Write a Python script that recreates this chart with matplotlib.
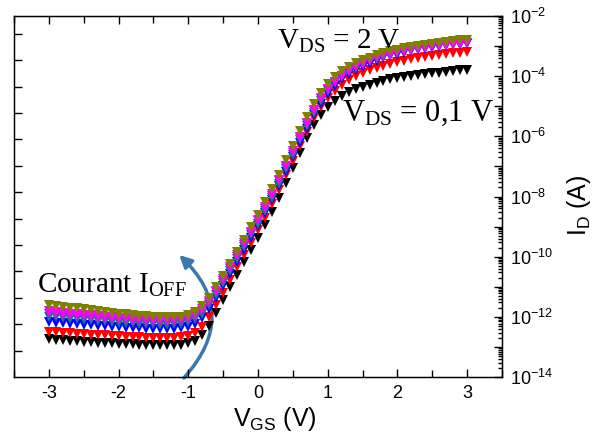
import numpy as np
import matplotlib
matplotlib.use("Agg")
import matplotlib.pyplot as plt
from matplotlib.ticker import LogLocator, FuncFormatter, MultipleLocator, NullFormatter
from matplotlib.patches import FancyArrowPatch

plt.rcParams['font.family'] = ['Liberation Sans', 'DejaVu Sans']
plt.rcParams['mathtext.fontset'] = 'custom'
plt.rcParams['mathtext.rm'] = 'Liberation Serif'
plt.rcParams['mathtext.it'] = 'Liberation Serif:italic'

# gate voltage sweep (V)
vgs = [round(-3.0 + 0.1 * i, 1) for i in range(61)]

# log10(I_D), one list per V_DS curve
logid_black = [-12.75, -12.77, -12.78, -12.80, -12.81, -12.83, -12.84, -12.86, -12.87, -12.88,
               -12.89, -12.90, -12.91, -12.92, -12.93, -12.93, -12.94, -12.94, -12.93, -12.92,
               -12.88, -12.80, -12.62, -12.30, -11.88, -11.45, -11.02, -10.60, -10.18, -9.78,
               -9.38, -8.95, -8.50, -8.05, -7.55, -7.05, -6.55, -6.05, -5.62, -5.28,
               -5.02, -4.82, -4.66, -4.53, -4.43, -4.35, -4.28, -4.22, -4.16, -4.11,
               -4.07, -4.03, -3.99, -3.96, -3.93, -3.90, -3.88, -3.85, -3.83, -3.81, -3.79]
logid_red = [-12.50, -12.52, -12.53, -12.55, -12.56, -12.58, -12.59, -12.61, -12.62, -12.63,
             -12.65, -12.66, -12.67, -12.68, -12.69, -12.70, -12.71, -12.71, -12.70, -12.68,
             -12.63, -12.53, -12.33, -12.02, -11.62, -11.20, -10.78, -10.36, -9.94, -9.54,
             -9.13, -8.70, -8.25, -7.78, -7.30, -6.81, -6.32, -5.84, -5.40, -5.02,
             -4.72, -4.48, -4.29, -4.13, -4.00, -3.89, -3.80, -3.72, -3.65, -3.59,
             -3.53, -3.48, -3.44, -3.40, -3.36, -3.33, -3.30, -3.27, -3.24, -3.22, -3.20]
logid_blue = [-12.17, -12.19, -12.21, -12.23, -12.25, -12.27, -12.28, -12.30, -12.31, -12.33,
              -12.34, -12.36, -12.37, -12.38, -12.39, -12.40, -12.41, -12.41, -12.40, -12.38,
              -12.33, -12.23, -12.03, -11.74, -11.37, -10.97, -10.57, -10.17, -9.77, -9.38,
              -8.98, -8.56, -8.12, -7.65, -7.17, -6.69, -6.21, -5.74, -5.30, -4.91,
              -4.58, -4.32, -4.11, -3.94, -3.80, -3.68, -3.58, -3.49, -3.41, -3.34,
              -3.28, -3.23, -3.18, -3.14, -3.10, -3.07, -3.04, -3.01, -2.98, -2.96, -2.94]
logid_teal = [-12.00, -12.02, -12.04, -12.06, -12.08, -12.10, -12.12, -12.14, -12.15, -12.17,
              -12.19, -12.20, -12.22, -12.23, -12.24, -12.25, -12.26, -12.26, -12.25, -12.23,
              -12.18, -12.08, -11.90, -11.62, -11.26, -10.87, -10.47, -10.07, -9.68, -9.29,
              -8.90, -8.48, -8.04, -7.57, -7.09, -6.61, -6.13, -5.66, -5.22, -4.83,
              -4.50, -4.24, -4.03, -3.86, -3.72, -3.60, -3.50, -3.42, -3.35, -3.28,
              -3.22, -3.17, -3.12, -3.08, -3.04, -3.01, -2.98, -2.95, -2.93, -2.91, -2.89]
logid_purple = [-11.92, -11.94, -11.96, -11.98, -12.00, -12.02, -12.04, -12.06, -12.08, -12.09,
                -12.11, -12.12, -12.14, -12.15, -12.16, -12.17, -12.18, -12.18, -12.17, -12.15,
                -12.10, -12.00, -11.82, -11.55, -11.19, -10.80, -10.40, -10.00, -9.61, -9.22,
                -8.83, -8.41, -7.97, -7.50, -7.02, -6.54, -6.06, -5.59, -5.15, -4.77,
                -4.45, -4.20, -3.99, -3.83, -3.69, -3.58, -3.48, -3.40, -3.33, -3.27,
                -3.21, -3.16, -3.12, -3.08, -3.04, -3.01, -2.98, -2.96, -2.93, -2.91, -2.89]
logid_magenta = [-11.82, -11.84, -11.86, -11.89, -11.91, -11.93, -11.95, -11.97, -11.99, -12.01,
                 -12.03, -12.04, -12.06, -12.07, -12.08, -12.09, -12.10, -12.10, -12.09, -12.07,
                 -12.02, -11.92, -11.75, -11.48, -11.13, -10.74, -10.34, -9.95, -9.56, -9.17,
                 -8.78, -8.36, -7.92, -7.45, -6.97, -6.49, -6.01, -5.55, -5.11, -4.74,
                 -4.42, -4.18, -3.98, -3.82, -3.69, -3.58, -3.49, -3.41, -3.34, -3.28,
                 -3.23, -3.18, -3.14, -3.10, -3.06, -3.03, -3.00, -2.98, -2.95, -2.93, -2.91]
logid_olive = [-11.60, -11.63, -11.66, -11.69, -11.72, -11.75, -11.78, -11.81, -11.84, -11.87,
               -11.89, -11.92, -11.94, -11.96, -11.98, -12.00, -12.01, -12.02, -12.02, -12.00,
               -11.95, -11.85, -11.65, -11.38, -11.02, -10.63, -10.23, -9.83, -9.43, -9.03,
               -8.62, -8.19, -7.74, -7.27, -6.79, -6.31, -5.83, -5.37, -4.94, -4.57,
               -4.27, -4.03, -3.84, -3.69, -3.57, -3.47, -3.38, -3.30, -3.23, -3.17,
               -3.12, -3.07, -3.03, -2.99, -2.95, -2.92, -2.89, -2.86, -2.83, -2.81, -2.79]

curves = [logid_black, logid_red, logid_blue, logid_teal, logid_purple, logid_magenta, logid_olive]
colors = ['black', '#ff0000', '#0000ff', '#008080', '#9933cc', '#ff00ff', '#808000']

fig = plt.figure(figsize=(5.97, 4.48), dpi=100)
ax = fig.add_axes([14 / 597, 1 - 377 / 448, (502 - 14) / 597, (377 - 16) / 448])

for vals, c in zip(curves, colors):
    ax.plot(vgs, 10.0 ** np.array(vals), linestyle='none', marker='v',
            markersize=6.5, color=c, markeredgewidth=0)

ax.set_yscale('log')
ax.set_xlim(-3.5, 3.5)
ax.set_ylim(1e-14, 1e-2)

# left spine carries its own plain ticks (twinx moves ax ticks left, so set it up first)
axl = ax.twinx()
axl.set_ylim(0, 13.67)
axl.set_yticks(range(1, 14))
axl.yaxis.set_ticks_position('left')
axl.tick_params(axis='y', direction='in', length=6, width=1, labelleft=False, labelright=False)

# right side log axis
ax.yaxis.set_ticks_position('right')
ax.yaxis.set_label_position('right')
ax.tick_params(axis='y', which='both', labelleft=False, labelright=True, left=False, right=True)
ax.yaxis.set_major_locator(LogLocator(base=10, numticks=20))
ax.yaxis.set_minor_locator(LogLocator(base=10, subs=np.arange(2, 10), numticks=20))
ax.yaxis.set_minor_formatter(NullFormatter())
ax.yaxis.set_major_formatter(FuncFormatter(
    lambda v, p: r'$\mathdefault{10^{%d}}$' % round(np.log10(v)) if round(np.log10(v)) % 2 == 0 else ''))

ax.xaxis.set_major_locator(MultipleLocator(1))
ax.xaxis.set_minor_locator(MultipleLocator(0.5))
ax.xaxis.set_major_formatter(FuncFormatter(lambda v, p: '%d' % v))

ax.tick_params(which='both', direction='in', top=True, labelsize=13, width=1)
ax.tick_params(which='major', length=6, pad=6)
ax.tick_params(which='minor', length=3)
ax.tick_params(axis='x', which='minor', length=5)
for s in ax.spines.values():
    s.set_linewidth(1.0)

ax.set_xlabel(r'$\mathdefault{V_{GS}}$ (V)', fontsize=18, labelpad=2)
ax.xaxis.label.set_x(0.535)
ax.set_ylabel(r'$\mathdefault{I_D}$ (A)', fontsize=18, labelpad=8)
ax.yaxis.label.set_y(0.476)

# annotations
ax.text(0.27, 10 ** -3.1, r'$\mathrm{V_{DS}}$ = 2 V', fontsize=21,
        family=['Liberation Serif'])
ax.text(1.2, 10 ** -5.5, r'$\mathrm{V_{DS}}$ = 0,1 V', fontsize=22,
        family=['Liberation Serif'])
ax.text(-3.17, 10 ** -11.2, r'Courant $\mathrm{I_{OFF}}$', fontsize=21,
        family=['Liberation Serif'])

arrow = FancyArrowPatch((-1.09, 10 ** -14.1), (-1.16, 10 ** -9.88),
                        connectionstyle='arc3,rad=0.5', arrowstyle='-|>',
                        mutation_scale=18, lw=2.5, color='#3d78ad', clip_on=False)
ax.add_patch(arrow)

fig.savefig('out.png', dpi=100)
